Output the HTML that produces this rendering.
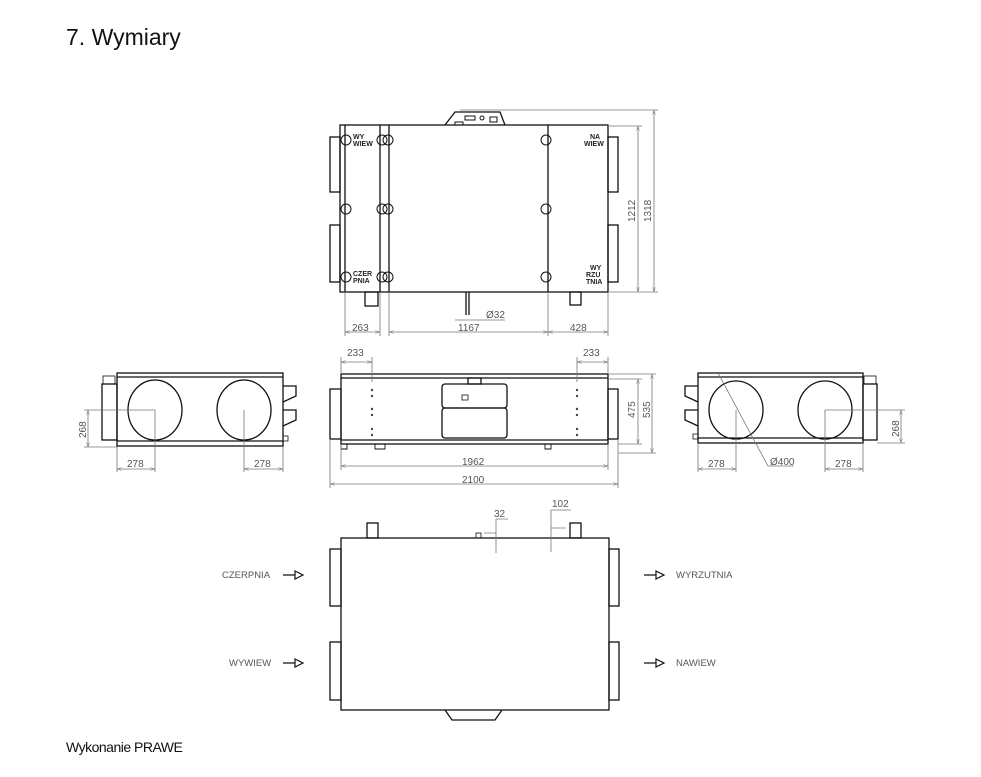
<!DOCTYPE html>
<html><head><meta charset="utf-8"><style>
body{margin:0;background:#fff;width:981px;height:777px;overflow:hidden}
svg{position:absolute;left:0;top:0}
</style></head><body>
<svg width="981" height="777" viewBox="0 0 981 777" xmlns="http://www.w3.org/2000/svg">
<defs>
<marker id="a" viewBox="0 0 10 10" refX="10" refY="5" markerWidth="6" markerHeight="6" orient="auto-start-reverse"><path d="M0,2 L10,5 L0,8" fill="none" stroke="#777" stroke-width="1"/></marker>
</defs>
<text x="66" y="45" font-family="Liberation Sans, sans-serif" font-size="23" fill="#111">7. Wymiary</text>
<text x="66" y="752" font-family="Liberation Sans, sans-serif" font-size="14" fill="#111" letter-spacing="-0.5">Wykonanie PRAWE</text>

<g fill="none" stroke="#111" stroke-width="1.3">
<rect x="340" y="125" width="268" height="167"/>
<line x1="380" y1="125" x2="380" y2="292"/><line x1="389" y1="125" x2="389" y2="292"/>
<line x1="548" y1="125" x2="548" y2="292"/><line x1="345" y1="125" x2="345" y2="292"/>
<rect x="330" y="137" width="10" height="55"/><rect x="330" y="225" width="10" height="57"/>
<rect x="608" y="137" width="10" height="55"/><rect x="608" y="225" width="10" height="57"/>
<path d="M445,125 L455,112 L500,112 L505,125"/>
<rect x="365" y="292" width="13" height="14"/><rect x="570" y="292" width="11" height="13"/>
<line x1="466" y1="292" x2="466" y2="315"/><line x1="469" y1="292" x2="469" y2="315"/>
<g stroke-width="1">
<circle cx="346" cy="140" r="5"/><circle cx="382" cy="140" r="5"/><circle cx="388" cy="140" r="5"/><circle cx="546" cy="140" r="5"/>
<circle cx="346" cy="209" r="5"/><circle cx="382" cy="209" r="5"/><circle cx="388" cy="209" r="5"/><circle cx="546" cy="209" r="5"/>
<circle cx="346" cy="277" r="5"/><circle cx="382" cy="277" r="5"/><circle cx="388" cy="277" r="5"/><circle cx="546" cy="277" r="5"/>
<rect x="465" y="116" width="10" height="4"/><circle cx="482" cy="118" r="2"/><rect x="490" y="117" width="7" height="5"/><rect x="455" y="122" width="8" height="3"/>
</g>
<rect x="341" y="374" width="267" height="70"/><line x1="341" y1="378" x2="608" y2="378"/>
<line x1="341" y1="440" x2="608" y2="440"/>
<rect x="330" y="389" width="11" height="50"/><rect x="608" y="389" width="10" height="50"/>
<rect x="442" y="384" width="65" height="24" rx="3"/><rect x="442" y="408" width="65" height="30" rx="3"/>
<rect x="468" y="378" width="13" height="6"/>
<rect x="462" y="395" width="6" height="5" stroke-width="0.8"/>
<path d="M341,444 v5 h6 v-5 M375,444 v5 h10 v-5 M545,444 v5 h6 v-5" stroke-width="0.9"/>
<rect x="117" y="373" width="166" height="73"/><line x1="117" y1="377" x2="283" y2="377"/><line x1="117" y1="441" x2="283" y2="441"/>
<ellipse cx="155" cy="410" rx="27" ry="30"/><ellipse cx="244" cy="410" rx="27" ry="30"/>
<rect x="102" y="384" width="15" height="56"/><rect x="103" y="376" width="12" height="8" stroke-width="0.8"/>
<path d="M283,386 h13 v10 l-13,6 M283,410 h13 v10 l-13,6"/>
<rect x="283" y="436" width="5" height="5" stroke-width="0.8"/>
<rect x="698" y="373" width="165" height="70"/><line x1="698" y1="377" x2="863" y2="377"/><line x1="698" y1="438" x2="863" y2="438"/>
<ellipse cx="736" cy="410" rx="27" ry="29"/><ellipse cx="825" cy="410" rx="27" ry="29"/>
<rect x="863" y="384" width="14" height="56"/><rect x="864" y="376" width="12" height="8" stroke-width="0.8"/>
<path d="M698,386 h-13 v10 l13,6 M698,410 h-13 v10 l13,6"/>
<rect x="693" y="434" width="5" height="5" stroke-width="0.8"/>
<rect x="341" y="538" width="268" height="172"/>
<rect x="330" y="549" width="11" height="57"/><rect x="330" y="642" width="11" height="58"/>
<rect x="609" y="549" width="10" height="57"/><rect x="609" y="642" width="10" height="58"/>
<rect x="367" y="523" width="11" height="15"/><rect x="570" y="523" width="11" height="15"/>
<rect x="476" y="533" width="5" height="5" stroke-width="0.8"/>
<path d="M445,710 L452,720 L495,720 L502,710"/>
<path d="M283,575 h12 M295,571 l8,4 l-8,4 z M283,663 h12 M295,659 l8,4 l-8,4 z M644,575 h12 M656,571 l8,4 l-8,4 z M644,663 h12 M656,659 l8,4 l-8,4 z" stroke-width="1.2"/>
</g>
<g fill="#444">
<circle cx="372" cy="390" r="1.2"/><circle cx="372" cy="396" r="1.2"/><circle cx="372" cy="409" r="1.2"/><circle cx="372" cy="415" r="1.2"/><circle cx="372" cy="429" r="1.2"/><circle cx="372" cy="435" r="1.2"/>
<circle cx="577" cy="390" r="1.2"/><circle cx="577" cy="396" r="1.2"/><circle cx="577" cy="409" r="1.2"/><circle cx="577" cy="415" r="1.2"/><circle cx="577" cy="429" r="1.2"/><circle cx="577" cy="435" r="1.2"/>
</g>

<g fill="none" stroke="#777" stroke-width="0.8">
<line x1="638" y1="126" x2="638" y2="292" marker-start="url(#a)" marker-end="url(#a)"/>
<line x1="654" y1="110" x2="654" y2="292" marker-start="url(#a)" marker-end="url(#a)"/>
<path d="M608,126 h34 M608,292 h50 M460,110 h198"/>
<line x1="345" y1="332" x2="380" y2="332" marker-start="url(#a)" marker-end="url(#a)"/>
<line x1="389" y1="332" x2="548" y2="332" marker-start="url(#a)" marker-end="url(#a)"/>
<line x1="548" y1="332" x2="608" y2="332" marker-start="url(#a)" marker-end="url(#a)"/>
<path d="M345,292 v44 M380,292 v44 M389,292 v44 M548,292 v44 M608,292 v44"/>
<path d="M455,320 h50"/>
<line x1="341" y1="362" x2="372" y2="362" marker-start="url(#a)" marker-end="url(#a)"/>
<line x1="577" y1="362" x2="608" y2="362" marker-start="url(#a)" marker-end="url(#a)"/>
<path d="M341,357 v17 M372,357 v25 M577,357 v25 M608,357 v17"/>
<line x1="341" y1="466" x2="608" y2="466" marker-start="url(#a)" marker-end="url(#a)"/>
<line x1="330" y1="484" x2="618" y2="484" marker-start="url(#a)" marker-end="url(#a)"/>
<path d="M341,444 v26 M608,444 v26 M330,439 v49 M618,439 v49"/>
<line x1="638" y1="379" x2="638" y2="444" marker-start="url(#a)" marker-end="url(#a)"/>
<line x1="652" y1="374" x2="652" y2="453" marker-start="url(#a)" marker-end="url(#a)"/>
<path d="M608,379 h34 M608,374 h48 M618,444 h24 M618,453 h38"/>
<line x1="88" y1="410" x2="88" y2="447" marker-start="url(#a)" marker-end="url(#a)"/>
<path d="M84,410 h71 v62 M84,447 h33 M117,447 v25 M244,410 v62 M283,447 v25"/>
<line x1="117" y1="469" x2="155" y2="469" marker-start="url(#a)" marker-end="url(#a)"/>
<line x1="244" y1="469" x2="283" y2="469" marker-start="url(#a)" marker-end="url(#a)"/>
<line x1="901" y1="410" x2="901" y2="443" marker-start="url(#a)" marker-end="url(#a)"/>
<path d="M825,410 h80 M877,443 h28 M736,410 v62 M698,443 v29 M825,410 v62 M863,443 v29"/>
<line x1="698" y1="469" x2="736" y2="469" marker-start="url(#a)" marker-end="url(#a)"/>
<line x1="825" y1="469" x2="863" y2="469" marker-start="url(#a)" marker-end="url(#a)"/>
<path d="M718,373 L768,466 h26"/>
<path d="M484,533 h12 M496,519 v34 M496,519 h12 M551,528 h15 M551,510 v42 M551,510 h20"/>
</g>

<g font-family="Liberation Sans, sans-serif" font-size="10" fill="#555">
<text x="352" y="331">263</text><text x="458" y="331">1167</text><text x="570" y="331">428</text>
<text x="486" y="318">Ø32</text>
<text x="635" y="222" transform="rotate(-90 635 222)">1212</text>
<text x="651" y="222" transform="rotate(-90 651 222)">1318</text>
<text x="347" y="356">233</text><text x="583" y="356">233</text>
<text x="462" y="465">1962</text><text x="462" y="483">2100</text>
<text x="635" y="418" transform="rotate(-90 635 418)">475</text>
<text x="650" y="418" transform="rotate(-90 650 418)">535</text>
<text x="86" y="438" transform="rotate(-90 86 438)">268</text>
<text x="127" y="467">278</text><text x="254" y="467">278</text>
<text x="708" y="467">278</text><text x="835" y="467">278</text>
<text x="770" y="465">Ø400</text>
<text x="899" y="437" transform="rotate(-90 899 437)">268</text>
<text x="494" y="517">32</text><text x="552" y="507">102</text>
<text x="222" y="578" font-size="9.5">CZERPNIA</text>
<text x="229" y="666" font-size="9.5">WYWIEW</text>
<text x="676" y="578" font-size="9.5">WYRZUTNIA</text>
<text x="676" y="666" font-size="9.5">NAWIEW</text>
</g>
<g font-family="Liberation Sans, sans-serif" font-size="7" font-weight="bold" fill="#222">
<text x="353" y="139">WY</text><text x="353" y="146">WIEW</text>
<text x="353" y="276">CZER</text><text x="353" y="283">PNIA</text>
<text x="590" y="139">NA</text><text x="584" y="146">WIEW</text>
<text x="590" y="270">WY</text><text x="586" y="277">RZU</text><text x="586" y="284">TNIA</text>
</g>
</svg>
</body></html>
